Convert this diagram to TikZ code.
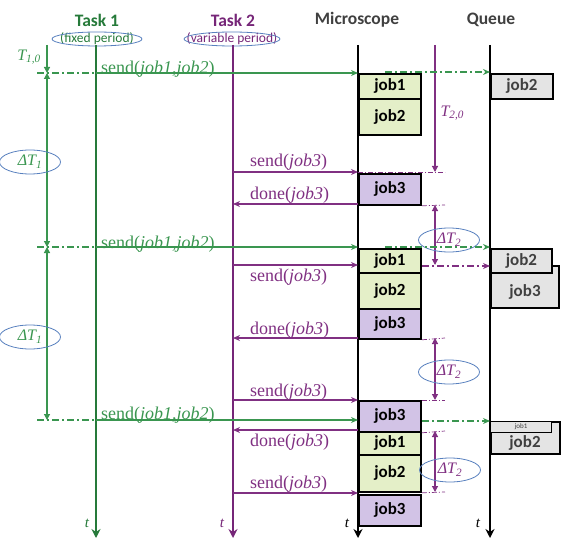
\documentclass[tikz,border=0pt]{standalone}
\usepackage{fontspec}
\setmainfont{Liberation Serif}
\setsansfont{Carlito}
\usetikzlibrary{arrows.meta,shapes.geometric}

\definecolor{taskgreen}{RGB}{38,122,58}
\definecolor{msggreen}{RGB}{58,150,80}
\definecolor{taskpurple}{RGB}{118,38,120}
\definecolor{msgpurple}{RGB}{128,48,130}
\definecolor{jobgreen}{RGB}{228,239,200}
\definecolor{jobpurple}{RGB}{210,195,230}
\definecolor{jobgray}{RGB}{228,228,228}
\definecolor{ovalblue}{RGB}{88,128,190}
\definecolor{headgray}{RGB}{64,64,64}

\tikzset{
  head/.style={font=\sffamily\bfseries\fontsize{17.5}{18}\selectfont},
  subhead/.style={font=\sffamily\fontsize{13.5}{14}\selectfont, inner sep=0pt},
  lifeline/.style={line width=2.2pt, -{Stealth[length=9pt, width=9pt]}},
  msg/.style={line width=1.3pt, -{Stealth[length=7pt, width=6pt]}},
  dashdot/.style={line width=1.1pt, dash pattern=on 7pt off 3pt on 2pt off 3pt},
  refline/.style={line width=0.7pt, dash pattern=on 5pt off 2pt on 1pt off 2pt},
  dimline/.style={line width=1.2pt, {Triangle[length=6pt, width=6pt]}-{Triangle[length=6pt, width=6pt]}},
  msglabel/.style={anchor=base west, inner sep=0pt, font=\fontsize{18}{18}\selectfont},
  jobfont/.style={font=\sffamily\bfseries\fontsize{17}{17}\selectfont},
  jobbox/.style={draw=black, line width=1.8pt, anchor=north west, minimum width=62pt,
    inner sep=0pt, jobfont},
  oval/.style={ellipse, draw=ovalblue, line width=0.8pt, minimum width=61pt,
    minimum height=24pt, inner sep=0pt, font=\itshape\fontsize{16}{16}\selectfont},
  tlabel/.style={font=\itshape\fontsize{15}{15}\selectfont}
}

\begin{document}
\begin{tikzpicture}[x=1pt, y=-1pt]
        \useasboundingbox (0,0) rectangle (567,540);

        % headers
        \node[head, text=taskgreen] (task1) at (97,20) {Task 1};
        \node[subhead, text=taskgreen] (task1sub) at (97,39) {(fixed period)};
        \draw[ovalblue, line width=0.8pt] (task1sub.center) ellipse [x radius=45pt, y radius=7pt];
        \node[head, text=taskpurple] (task2) at (233,20) {Task 2};
        \node[subhead, text=taskpurple] (task2sub) at (232,39) {(variable period)};
        \draw[ovalblue, line width=0.8pt] (task2sub.center) ellipse [x radius=48pt, y radius=7pt];
        \node[head, text=headgray] (mic) at (357,20) {Microscope};
        \node[head, text=headgray] (queue) at (491,20) {Queue};

        % lifelines
        \coordinate (t1top) at (96,45);   \coordinate (t1bot) at (96,538);
        \coordinate (t2top) at (233,45);  \coordinate (t2bot) at (233,538);
        \coordinate (mtop) at (358,45);   \coordinate (mbot) at (358,538);
        \coordinate (qtop) at (490,45);   \coordinate (qbot) at (490,538);

        \draw[lifeline, taskgreen] (t1top) -- (t1bot);
        \draw[lifeline, taskpurple] (t2top) -- (t2bot);
        \draw[lifeline, black] (mtop) -- (mbot);
        \draw[lifeline, black] (qtop) -- (qbot);

        \node[tlabel, text=taskgreen] (t1t) at (87,523) {t};
        \node[tlabel, text=taskpurple] (t2t) at (222,523) {t};
        \node[tlabel] (mt) at (347,523) {t};
        \node[tlabel] (qt) at (478,523) {t};

        % fixed period of task 1
        \coordinate (d0) at (47,45);
        \coordinate (d1) at (47,73);
        \coordinate (d2) at (47,247);
        \coordinate (d3) at (47,420);
        \draw[msggreen, line width=1.2pt, -{Triangle[length=6pt, width=6pt]}] (d0) -- (d1);
        \draw[msggreen, dimline] (d1) -- (d2);
        \draw[msggreen, dimline] (d2) -- (d3);
        \node[text=msggreen, font=\itshape\fontsize{16}{16}\selectfont] (T10) at (29,57) {T\textsubscript{1,0}};
        \node[oval, text=msggreen] (dT1a) at (30,162) {ΔT\textsubscript{1}};
        \node[oval, text=msggreen] (dT1b) at (30,337) {ΔT\textsubscript{1}};

        % messages of task 1
        \coordinate (g1a) at (96,73);   \coordinate (g1b) at (358,73);
        \coordinate (g2a) at (96,247);  \coordinate (g2b) at (358,247);
        \coordinate (g3a) at (96,420);  \coordinate (g3b) at (358,420);
        \coordinate (r1) at (37,73);
        \coordinate (r2) at (37,247);
        \coordinate (r3) at (37,420);

        \draw[msggreen, dashdot] (r1) -- (g1a);
        \draw[msggreen, dashdot] (r2) -- (g2a);
        \draw[msggreen, dashdot] (r3) -- (g3a);
        \draw[msg, msggreen] (g1a) -- (g1b);
        \draw[msg, msggreen] (g2a) -- (g2b);
        \draw[msg, msggreen] (g3a) -- (g3b);
        \node[msglabel, text=msggreen] (g1l) at (101,74) {send(\textit{job1,job2})};
        \node[msglabel, text=msggreen] (g2l) at (101,248) {send(\textit{job1,job2})};
        \node[msglabel, text=msggreen] (g3l) at (101,419) {send(\textit{job1,job2})};

        % messages of task 2
        \coordinate (p1a) at (233,172);  \coordinate (p1b) at (358,172);
        \coordinate (p2a) at (233,204);  \coordinate (p2b) at (358,204);
        \coordinate (p3a) at (233,265);  \coordinate (p3b) at (358,265);
        \coordinate (p4a) at (233,338);  \coordinate (p4b) at (358,338);
        \coordinate (p5a) at (233,400);  \coordinate (p5b) at (358,400);
        \coordinate (p6a) at (233,430);  \coordinate (p6b) at (358,430);
        \coordinate (p7a) at (233,493);  \coordinate (p7b) at (358,493);

        \draw[msg, msgpurple] (p1a) -- (p1b);
        \draw[msg, msgpurple] (p2b) -- (p2a);
        \draw[msg, msgpurple] (p3a) -- (p3b);
        \draw[msg, msgpurple] (p4b) -- (p4a);
        \draw[msg, msgpurple] (p5a) -- (p5b);
        \draw[msg, msgpurple] (p6b) -- (p6a);
        \draw[msg, msgpurple] (p7a) -- (p7b);
        \node[msglabel, text=msgpurple] (p1l) at (250,167) {send(\textit{job3})};
        \node[msglabel, text=msgpurple] (p2l) at (250,199) {done(\textit{job3})};
        \node[msglabel, text=msgpurple] (p3l) at (250,281) {send(\textit{job3})};
        \node[msglabel, text=msgpurple] (p4l) at (250,334) {done(\textit{job3})};
        \node[msglabel, text=msgpurple] (p5l) at (250,396) {send(\textit{job3})};
        \node[msglabel, text=msgpurple] (p6l) at (250,446) {done(\textit{job3})};
        \node[msglabel, text=msgpurple] (p7l) at (250,488) {send(\textit{job3})};

        % jobs on the microscope
        \node[jobbox, fill=jobgreen, minimum height=25pt] (m1) at (358,73) {job1};
        \node[jobbox, fill=jobgreen, minimum height=36pt] (m2) at (358,98) {job2};
        \node[jobbox, fill=jobpurple, minimum height=31pt] (m3) at (358,173) {job3};
        \node[jobbox, fill=jobgreen, minimum height=24pt] (m4) at (358,248) {job1};
        \node[jobbox, fill=jobgreen, minimum height=36pt] (m5) at (358,272) {job2};
        \node[jobbox, fill=jobpurple, minimum height=30pt] (m6) at (358,308) {job3};
        \node[jobbox, fill=jobpurple, minimum height=31pt] (m7) at (358,400) {job3};
        \node[jobbox, fill=jobgreen, minimum height=23pt] (m8) at (358,431) {job1};
        \node[jobbox, fill=jobgreen, minimum height=37pt] (m9) at (358,454) {job2};
        \node[jobbox, fill=jobpurple, minimum height=31pt] (m10) at (358,494) {job3};

        % period of task 2
        \coordinate (u0) at (435,45);   \coordinate (u1) at (435,172);
        \coordinate (u2) at (435,205);  \coordinate (u3) at (435,265);
        \coordinate (u4) at (435,338);  \coordinate (u5) at (435,400);
        \coordinate (u6) at (435,431);  \coordinate (u7) at (435,492);
        \draw[msgpurple, line width=1.2pt, -{Triangle[length=6pt, width=6pt]}] (u0) -- (u1);
        \draw[msgpurple, dimline] (u2) -- (u3);
        \draw[msgpurple, dimline] (u4) -- (u5);
        \draw[msgpurple, dimline] (u6) -- (u7);
        \draw[msgpurple, refline] (p1b) -- (445,172);
        \draw[msgpurple, refline] (m3.south east) -- (445,205);
        \draw[msgpurple, refline] (m6.south east) -- (445,338);
        \draw[msgpurple, refline] (m7.north east) -- (445,400);
        \draw[msgpurple, refline] (m7.south east) -- (445,431);
        \draw[msgpurple, refline] (m9.south east) -- (445,492);
        \node[anchor=west, text=msgpurple, font=\itshape\fontsize{16}{16}\selectfont] (T20) at (437,113) {T\textsubscript{2,0}};
        \node[oval, text=msgpurple] (dT2a) at (449,240) {ΔT\textsubscript{2}};
        \node[oval, text=msgpurple] (dT2b) at (449,372) {ΔT\textsubscript{2}};
        \node[oval, text=msgpurple] (dT2c) at (450,470) {ΔT\textsubscript{2}};

        % jobs sent on to the queue
        \coordinate (k1a) at (385,72);  \coordinate (k1b) at (490,72);
        \coordinate (k2a) at (385,247); \coordinate (k2b) at (490,247);
        \coordinate (k3a) at (422,266); \coordinate (k3b) at (490,266);
        \coordinate (k4a) at (422,421); \coordinate (k4b) at (490,421);
        \draw[msggreen, dashdot, -{Stealth[length=7pt, width=6pt]}] (k1a) -- (k1b);
        \draw[msggreen, dashdot, -{Stealth[length=7pt, width=6pt]}] (k2a) -- (k2b);
        \draw[msgpurple, dashdot, -{Stealth[length=7pt, width=6pt]}] (k3a) -- (k3b);
        \draw[msggreen, dashdot, -{Stealth[length=7pt, width=6pt]}] (k4a) -- (k4b);

        % queue
        \node[jobbox, fill=jobgray, text=headgray, minimum height=25pt] (q1) at (490,73) {job2};
        \node[jobbox, fill=jobgray, minimum width=68pt, minimum height=42pt] (q2back) at (490,265) {};
        \node[jobfont, text=headgray] (q2text) at (525,292) {job3};
        \node[jobbox, fill=jobgray, text=headgray, minimum width=61pt, minimum height=24pt] (q2) at (490,248) {job2};
        \node[jobbox, fill=jobgray, minimum width=69pt, minimum height=32pt] (q3) at (490,421) {};
        \node[jobfont, text=headgray] (q3text) at (525,443) {job2};
        \node[jobbox, fill=jobgray, text=headgray, minimum width=61pt, minimum height=11pt,
              line width=1.2pt, font=\sffamily\fontsize{7}{7}\selectfont] (q3small) at (490,421) {job1};
    \end{tikzpicture}
\end{document}
